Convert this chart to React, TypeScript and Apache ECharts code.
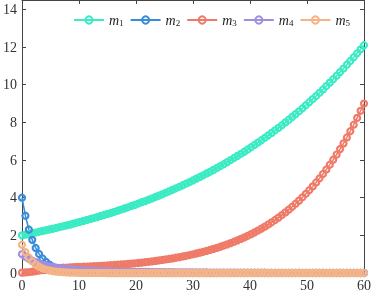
import { useEffect, useRef } from 'react';
import * as echarts from 'echarts';

const t = [
  0, 0.6, 1.2, 1.8, 2.4, 3, 3.6, 4.2, 4.8, 5.4,
  6, 6.6, 7.2, 7.8, 8.4, 9, 9.6, 10.2, 10.8, 11.4,
  12, 12.6, 13.2, 13.8, 14.4, 15, 15.6, 16.2, 16.8, 17.4,
  18, 18.6, 19.2, 19.8, 20.4, 21, 21.6, 22.2, 22.8, 23.4,
  24, 24.6, 25.2, 25.8, 26.4, 27, 27.6, 28.2, 28.8, 29.4,
  30, 30.6, 31.2, 31.8, 32.4, 33, 33.6, 34.2, 34.8, 35.4,
  36, 36.6, 37.2, 37.8, 38.4, 39, 39.6, 40.2, 40.8, 41.4,
  42, 42.6, 43.2, 43.8, 44.4, 45, 45.6, 46.2, 46.8, 47.4,
  48, 48.6, 49.2, 49.8, 50.4, 51, 51.6, 52.2, 52.8, 53.4,
  54, 54.6, 55.2, 55.8, 56.4, 57, 57.6, 58.2, 58.8, 59.4,
  60,
];

const m1 = [
  2.00, 2.04, 2.07, 2.11, 2.15, 2.19, 2.23, 2.27, 2.31, 2.35,
  2.39, 2.44, 2.48, 2.53, 2.57, 2.62, 2.67, 2.72, 2.77, 2.82,
  2.87, 2.92, 2.97, 3.03, 3.08, 3.14, 3.19, 3.25, 3.31, 3.37,
  3.43, 3.49, 3.56, 3.62, 3.69, 3.76, 3.82, 3.89, 3.96, 4.04,
  4.11, 4.18, 4.26, 4.34, 4.42, 4.50, 4.58, 4.66, 4.75, 4.83,
  4.92, 5.01, 5.10, 5.19, 5.29, 5.38, 5.48, 5.58, 5.68, 5.78,
  5.89, 6.00, 6.11, 6.22, 6.33, 6.44, 6.56, 6.68, 6.80, 6.93,
  7.05, 7.18, 7.31, 7.44, 7.58, 7.71, 7.85, 8.00, 8.14, 8.29,
  8.44, 8.59, 8.75, 8.91, 9.07, 9.24, 9.40, 9.57, 9.75, 9.93,
  10.11, 10.29, 10.48, 10.67, 10.86, 11.06, 11.26, 11.46, 11.67, 11.88,
  12.10,
];

const m2 = [
  4.00, 3.04, 2.31, 1.76, 1.33, 1.01, 0.77, 0.59, 0.45, 0.34,
  0.26, 0.20, 0.15, 0.11, 0.09, 0.07, 0.05, 0.04, 0.03, 0.02,
  0.02, 0.01, 0.01, 0.01, 0.01, 0, 0, 0, 0, 0,
  0, 0, 0, 0, 0, 0, 0, 0, 0, 0,
  0, 0, 0, 0, 0, 0, 0, 0, 0, 0,
  0, 0, 0, 0, 0, 0, 0, 0, 0, 0,
  0, 0, 0, 0, 0, 0, 0, 0, 0, 0,
  0, 0, 0, 0, 0, 0, 0, 0, 0, 0,
  0, 0, 0, 0, 0, 0, 0, 0, 0, 0,
  0, 0, 0, 0, 0, 0, 0, 0, 0, 0,
  0,
];

const m3 = [
  0.02, 0.03, 0.05, 0.07, 0.10, 0.13, 0.16, 0.19, 0.22, 0.24,
  0.26, 0.27, 0.28, 0.29, 0.30, 0.31, 0.318, 0.325, 0.333, 0.341,
  0.350, 0.359, 0.369, 0.379, 0.389, 0.400, 0.412, 0.425, 0.438, 0.452,
  0.467, 0.481, 0.498, 0.515, 0.534, 0.553, 0.573, 0.595, 0.617, 0.640,
  0.665, 0.692, 0.719, 0.747, 0.777, 0.810, 0.842, 0.878, 0.914, 0.953,
  0.994, 1.035, 1.080, 1.127, 1.176, 1.226, 1.280, 1.336, 1.395, 1.457,
  1.521, 1.588, 1.659, 1.733, 1.810, 1.892, 1.977, 2.066, 2.159, 2.256,
  2.359, 2.465, 2.576, 2.693, 2.816, 2.943, 3.078, 3.218, 3.364, 3.518,
  3.678, 3.846, 4.021, 4.206, 4.398, 4.599, 4.809, 5.030, 5.260, 5.501,
  5.753, 6.017, 6.293, 6.581, 6.884, 7.200, 7.530, 7.876, 8.238, 8.616,
  9.00,
];

const m4 = [
  1.000, 0.866, 0.753, 0.657, 0.576, 0.508, 0.449, 0.399, 0.356, 0.320,
  0.288, 0.261, 0.238, 0.217, 0.199, 0.184, 0.170, 0.158, 0.147, 0.137,
  0.128, 0.121, 0.114, 0.107, 0.101, 0.096, 0.091, 0.086, 0.082, 0.078,
  0.074, 0.071, 0.068, 0.064, 0.062, 0.059, 0.056, 0.054, 0.052, 0.049,
  0.047, 0.045, 0.043, 0.041, 0.039, 0.038, 0.036, 0.035, 0.033, 0.032,
  0.031, 0.029, 0.028, 0.027, 0.026, 0.025, 0.024, 0.023, 0.022, 0.021,
  0.020, 0.019, 0.019, 0.018, 0.017, 0.016, 0.016, 0.015, 0.014, 0.014,
  0.013, 0.013, 0.012, 0.012, 0.011, 0.011, 0.010, 0.010, 0.009, 0.009,
  0.009, 0.008, 0.008, 0.008, 0.007, 0.007, 0.007, 0.006, 0.006, 0.006,
  0.006, 0.005, 0.005, 0.005, 0.005, 0.005, 0.004, 0.004, 0.004, 0.004,
  0.004,
];

const m5 = [
  1.500, 1.111, 0.823, 0.610, 0.452, 0.335, 0.248, 0.184, 0.136, 0.101,
  0.075, 0.055, 0.041, 0.030, 0.022, 0.017, 0.012, 0.009, 0.007, 0.005,
  0.004, 0.003, 0.002, 0.002, 0.001, 0.001, 0.001, 0, 0, 0,
  0, 0, 0, 0, 0, 0, 0, 0, 0, 0,
  0, 0, 0, 0, 0, 0, 0, 0, 0, 0,
  0, 0, 0, 0, 0, 0, 0, 0, 0, 0,
  0, 0, 0, 0, 0, 0, 0, 0, 0, 0,
  0, 0, 0, 0, 0, 0, 0, 0, 0, 0,
  0, 0, 0, 0, 0, 0, 0, 0, 0, 0,
  0, 0, 0, 0, 0, 0, 0, 0, 0, 0,
  0,
];

const seriesNames = ['m1', 'm2', 'm3', 'm4', 'm5'];
const seriesColors = ['#3aebc3', '#3a8dd8', '#ef7a68', '#a08fe0', '#f6b486'];

export default function App() {
  const ref = useRef<HTMLDivElement>(null);
  useEffect(() => {
    const chart = echarts.init(ref.current!, null, { renderer: 'svg' });
    const font = "'Liberation Serif', 'DejaVu Serif', serif";
    const values = [m1, m2, m3, m4, m5];
    const axisCol = '#444';
    const mkX = (pos: 'bottom' | 'top', labels: boolean) => ({
      type: 'value',
      min: 0,
      max: 60,
      interval: 10,
      position: pos,
      axisLine: { show: true, onZero: false, lineStyle: { color: axisCol, width: 1 } },
      axisTick: { show: true, inside: true, length: 4, lineStyle: { color: axisCol } },
      axisLabel: { show: labels, fontFamily: font, fontSize: 14, color: '#333', margin: 5 },
      splitLine: { show: false },
    });
    const mkY = (pos: 'left' | 'right', labels: boolean) => ({
      type: 'value',
      min: 0,
      max: 14.5,
      interval: 2,
      position: pos,
      axisLine: { show: true, onZero: false, lineStyle: { color: axisCol, width: 1 } },
      axisTick: { show: true, inside: true, length: 4, lineStyle: { color: axisCol } },
      axisLabel: { show: labels, showMaxLabel: false, fontFamily: font, fontSize: 14, color: '#333', margin: 5 },
      splitLine: { show: false },
    });
    chart.setOption({
      animation: false,
      grid: { left: 19, right: 7, top: 0, bottom: 20, containLabel: false },
      legend: {
        left: 68,
        top: 8,
        width: 300,
        itemWidth: 30,
        itemHeight: 9,
        itemGap: 6,
        data: seriesNames,
        formatter: (name: string) => `{a|m}{b|${name.slice(1)}}`,
        textStyle: {
          rich: {
            a: { fontFamily: font, fontStyle: 'italic', fontSize: 14, lineHeight: 15, color: '#222' },
            b: { fontFamily: font, fontSize: 9, lineHeight: 8, verticalAlign: 'bottom', color: '#222' },
          },
        },
      },
      xAxis: [mkX('bottom', true), mkX('top', false)],
      yAxis: [mkY('left', true), mkY('right', false)],
      series: seriesNames.map((n, i) => ({
        type: 'line',
        name: n,
        xAxisIndex: 0,
        yAxisIndex: 0,
        data: t.map((x, j) => [x, values[i][j]]),
        symbol: 'circle',
        symbolSize: 6,
        showAllSymbol: true,
        lineStyle: { color: seriesColors[i], width: 1.5 },
        itemStyle: { color: 'rgba(255,255,255,0)', borderColor: seriesColors[i], borderWidth: 2.2 },
        emphasis: { disabled: true },
      })),
    });
    return () => chart.dispose();
  }, []);
  return <div ref={ref} style={{ position: 'fixed', left: 0, top: 0, width: 374, height: 293 }} />;
}
